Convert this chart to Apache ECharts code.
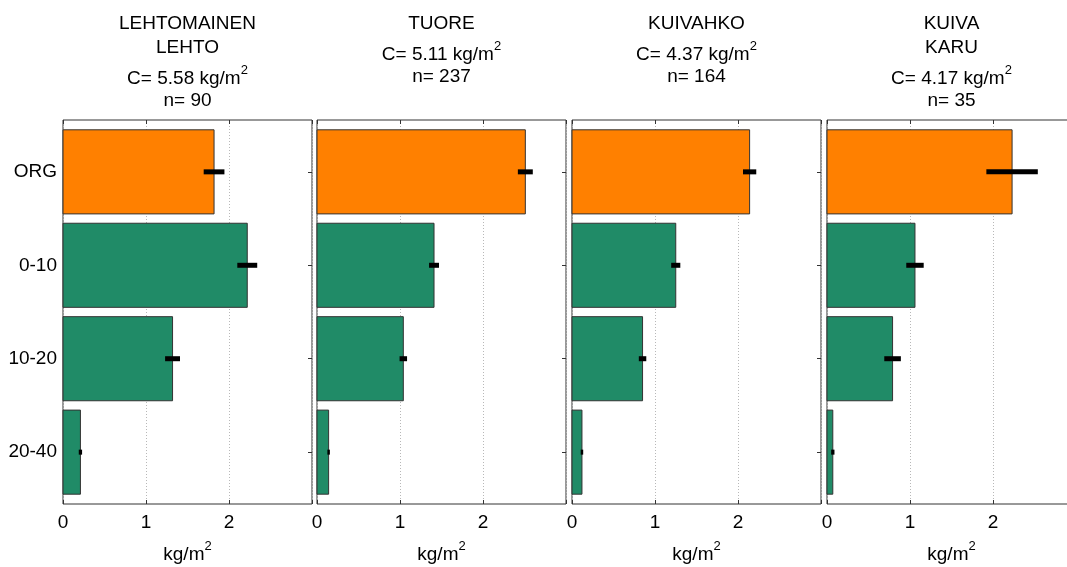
<!DOCTYPE html>
<html><head><meta charset="utf-8">
<script src="https://cdn.jsdelivr.net/npm/echarts@6/dist/echarts.min.js"></script>
<style>html,body{margin:0;padding:0;background:#fff}#c{width:1067px;height:567px}</style>
</head><body><div id="c"></div>
<script>
// ---- data ----
const categories = ['ORG', '0-10', '10-20', '20-40'];
const panelTitles = [['LEHTOMAINEN', 'LEHTO'], ['TUORE'], ['KUIVAHKO'], ['KUIVA', 'KARU']];
const carbonTotals = ['5.58', '5.11', '4.37', '4.17'];
const sampleCounts = [90, 237, 164, 35];
const lehtoValues = [1.82, 2.22, 1.32, 0.21];
const lehtoErrors = [0.125, 0.12, 0.09, 0.02];
const tuoreValues = [2.51, 1.41, 1.04, 0.14];
const tuoreErrors = [0.09, 0.06, 0.045, 0.015];
const kuivahkoValues = [2.14, 1.25, 0.85, 0.12];
const kuivahkoErrors = [0.08, 0.055, 0.045, 0.015];
const kuivaValues = [2.23, 1.06, 0.79, 0.07];
const kuivaErrors = [0.31, 0.105, 0.10, 0.02];
const xTickLabels = ['0', '1', '2', ''];
const unitText = 'kg/m';
const unitSup = '2';

// ---- layout / style ----
const panelValues = [lehtoValues, tuoreValues, kuivahkoValues, kuivaValues];
const panelErrors = [lehtoErrors, tuoreErrors, kuivahkoErrors, kuivaErrors];
const FONT = 'Liberation Sans, Arial, sans-serif';
const lefts = [63, 317, 572, 827];
const W = 249, TOP = 120, H = 384;
const barColors = ['#ff8000', '#208b67', '#208b67', '#208b67'];
const catIdx = categories.map((c, i) => i);

const chart = echarts.init(document.getElementById('c'));
const grid = [], xAxis = [], yAxis = [], series = [], graphic = [];

const rich = {
  m: { fontSize: 19, fontFamily: FONT, color: '#000', lineHeight: 30 },
  s: { fontSize: 13, fontFamily: FONT, color: '#000', lineHeight: 13, verticalAlign: 'top' }
};
const noLine = { show: false, onZero: false };
const tick = { show: true, inside: true, length: 4, lineStyle: { color: '#333' } };

lefts.forEach((L, i) => {
  grid.push({ left: L, top: TOP, width: W, height: H, show: true, borderColor: '#333', borderWidth: 1,
    backgroundColor: 'transparent', containLabel: false, outerBoundsMode: 'none' });
});
lefts.forEach((L, i) => {
  xAxis.push({
    gridIndex: i, type: 'value', min: 0, max: 3, interval: 1, position: 'bottom',
    axisLine: noLine, axisTick: tick,
    axisLabel: { margin: 9, fontSize: 19, color: '#000', fontFamily: FONT, formatter: v => xTickLabels[Math.round(v)] },
    splitLine: { show: true, lineStyle: { color: '#b8b8b8', type: [1, 2], width: 1 } },
    name: '{m|' + unitText + '}{s|' + unitSup + '}', nameLocation: 'middle', nameGap: 36,
    nameTextStyle: { rich: rich }
  });
});
lefts.forEach((L, i) => {
  xAxis.push({
    gridIndex: i, type: 'value', min: 0, max: 3, interval: 1, position: 'top',
    axisLine: noLine, axisTick: tick,
    axisLabel: { show: false }, splitLine: { show: false }
  });
});
lefts.forEach((L, i) => {
  yAxis.push({
    gridIndex: i, type: 'value', inverse: true, min: -0.555, max: 3.555, position: 'left',
    axisLine: noLine,
    axisTick: Object.assign({ customValues: catIdx }, tick),
    axisLabel: { show: i === 0, customValues: catIdx, margin: 6, fontSize: 19, color: '#000', fontFamily: FONT, formatter: v => categories[Math.round(v)] },
    splitLine: { show: false }
  });
});
lefts.forEach((L, i) => {
  yAxis.push({
    gridIndex: i, type: 'value', inverse: true, min: -0.555, max: 3.555, position: 'right',
    axisLine: noLine,
    axisTick: Object.assign({ customValues: catIdx }, tick),
    axisLabel: { show: false }, splitLine: { show: false }
  });
});

lefts.forEach((L, i) => {
  const vals = panelValues[i], errs = panelErrors[i];
  series.push({
    type: 'custom', xAxisIndex: i, yAxisIndex: i, z: 2,
    data: vals.map((v, k) => [v, k]),
    renderItem: (params, api) => {
      const v = api.value(0), c = api.value(1);
      const p0 = api.coord([0, c - 0.45]);
      const p1 = api.coord([v, c + 0.45]);
      return { type: 'rect',
        shape: { x: p0[0], y: Math.min(p0[1], p1[1]), width: p1[0] - p0[0], height: Math.abs(p1[1] - p0[1]) },
        style: { fill: barColors[c], stroke: '#333', lineWidth: 1 } };
    }
  });
  series.push({
    type: 'custom', xAxisIndex: i, yAxisIndex: i, z: 3,
    data: vals.map((v, k) => [v, k, errs[k]]),
    renderItem: (params, api) => {
      const v = api.value(0), c = api.value(1), e = api.value(2);
      const a = api.coord([v - e, c]);
      const b = api.coord([v + e, c]);
      return { type: 'line', shape: { x1: a[0], y1: a[1], x2: b[0], y2: b[1] },
        style: { stroke: '#000', lineWidth: 5, lineCap: 'butt' } };
    }
  });

  // titles
  const cx = L + W / 2;
  let y = 23.5;
  panelTitles[i].forEach((t, k) => {
    if (k > 0) y += 24;
    graphic.push({ type: 'text', x: cx, y: y, style: { text: t, font: '19px ' + FONT, fill: '#000', align: 'center', verticalAlign: 'middle' } });
  });
  y += 31;
  graphic.push({ type: 'text', x: cx, y: y, style: {
    text: '{m|C= ' + carbonTotals[i] + ' ' + unitText + '}{s|' + unitSup + '}', rich: rich,
    align: 'center', verticalAlign: 'middle' } });
  y += 22.5;
  graphic.push({ type: 'text', x: cx, y: y, style: { text: 'n= ' + sampleCounts[i], font: '19px ' + FONT, fill: '#000', align: 'center', verticalAlign: 'middle' } });
});

chart.setOption({ animation: false, backgroundColor: '#fff', grid, xAxis, yAxis, series, graphic });
</script></body></html>
